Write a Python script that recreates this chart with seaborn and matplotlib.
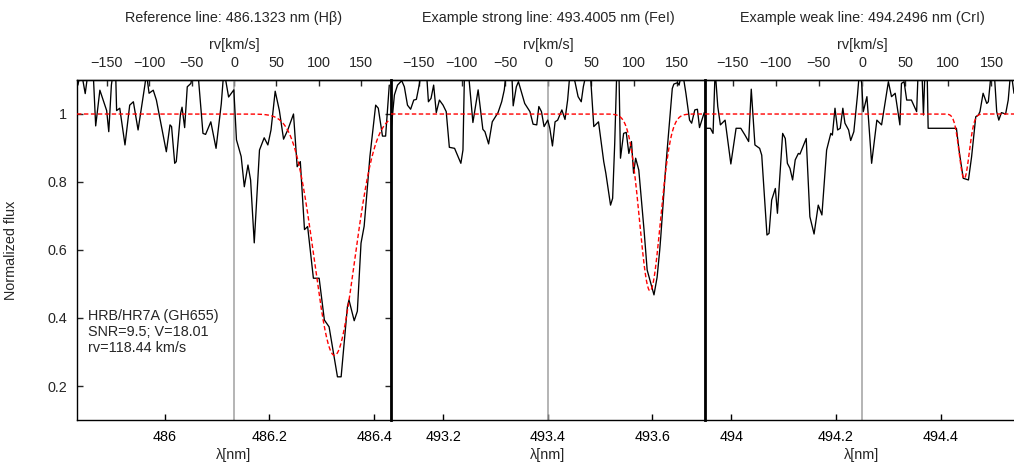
import numpy as np
import pandas as pd
import matplotlib
matplotlib.use("Agg")
import matplotlib.pyplot as plt
from matplotlib.ticker import FuncFormatter, MultipleLocator, FixedLocator
import seaborn as sns

# ---------------------------------------------------------------- constants
C_KMS = 299792.458
RV_KMS = 118.44
HALF_WINDOW = 0.3  # nm on each side of the rest wavelength

line_titles = [
    "Reference line: 486.1323 nm (Hβ)",
    "Example strong line: 493.4005 nm (FeI)",
    "Example weak line: 494.2496 nm (CrI)",
]
line_centers = [486.1323, 493.4005, 494.2496]
fit_depths = [0.71, 0.52, 0.19]
fit_sigmas = [0.0385, 0.0199, 0.0095]
rv_ticks = [-150, -100, -50, 0, 50, 100, 150]

star_info = "HRB/HR7A (GH655)\nSNR=9.5; V=18.01\nrv=118.44 km/s"

# ---------------------------------------------------------------- spectra
hb_wave = [485.834, 485.840, 485.848, 485.854, 485.863, 485.868, 485.876, 485.889,
           485.893, 485.898, 485.902, 485.906, 485.908, 485.914, 485.924, 485.933,
           485.940, 485.949, 485.962, 485.965, 485.970, 485.978, 485.984, 486.003,
           486.010, 486.013, 486.019, 486.022, 486.030, 486.033, 486.038, 486.043,
           486.050, 486.054, 486.063, 486.073, 486.078, 486.088, 486.098, 486.108,
           486.113, 486.122, 486.132, 486.137, 486.146, 486.152, 486.159, 486.164,
           486.171, 486.181, 486.190, 486.197, 486.203, 486.211, 486.219, 486.227,
           486.235, 486.246, 486.253, 486.259, 486.267, 486.273, 486.284, 486.295,
           486.305, 486.314, 486.330, 486.337, 486.349, 486.352, 486.362, 486.368,
           486.375, 486.381, 486.392, 486.403, 486.408, 486.416, 486.422, 486.429]
hb_flux = [1.085, 1.130, 1.060, 1.130, 1.130, 0.965, 1.070, 1.010,
           0.948, 1.085, 1.130, 1.130, 1.010, 1.017, 0.909, 1.026,
           1.036, 0.953, 1.085, 1.120, 1.061, 1.070, 1.041, 0.889,
           0.968, 0.963, 0.855, 0.860, 1.000, 1.020, 0.960, 1.080,
           1.090, 1.130, 1.130, 0.943, 0.940, 0.977, 0.899, 1.030,
           1.130, 1.050, 1.071, 0.924, 0.875, 0.786, 0.850, 0.806,
           0.621, 0.894, 0.930, 0.909, 0.953, 1.067, 1.010, 0.926,
           0.953, 1.000, 0.845, 0.860, 0.660, 0.669, 0.517, 0.517,
           0.394, 0.374, 0.227, 0.227, 0.433, 0.453, 0.392, 0.420,
           0.620, 0.670, 0.875, 1.026, 1.017, 0.935, 0.935, 1.085]

fe_wave = [493.101, 493.107, 493.113, 493.121, 493.126, 493.132, 493.138, 493.144,
           493.149, 493.155, 493.158, 493.168, 493.172, 493.177, 493.182, 493.187,
           493.193, 493.200, 493.206, 493.212, 493.222, 493.234, 493.238, 493.241,
           493.248, 493.257, 493.267, 493.276, 493.280, 493.287, 493.294, 493.305,
           493.312, 493.317, 493.321, 493.331, 493.334, 493.340, 493.344, 493.356,
           493.366, 493.372, 493.379, 493.383, 493.388, 493.393, 493.400, 493.404,
           493.409, 493.414, 493.419, 493.427, 493.433, 493.438, 493.443, 493.452,
           493.458, 493.464, 493.468, 493.475, 493.481, 493.488, 493.497, 493.507,
           493.511, 493.520, 493.524, 493.528, 493.532, 493.536, 493.539, 493.545,
           493.550, 493.555, 493.560, 493.564, 493.568, 493.574, 493.584, 493.590,
           493.603, 493.609, 493.614, 493.616, 493.625, 493.638, 493.641, 493.648,
           493.651, 493.657, 493.664, 493.671, 493.675, 493.681, 493.686, 493.690,
           493.699]
fe_flux = [0.958, 1.056, 1.085, 1.098, 1.080, 1.026, 1.014, 1.041,
           1.043, 1.090, 1.130, 1.130, 1.036, 1.046, 1.085, 1.004,
           1.041, 1.026, 1.007, 0.902, 0.899, 0.855, 0.894, 1.130,
           1.130, 0.975, 1.071, 0.955, 0.948, 0.912, 0.977, 1.004,
           1.036, 1.071, 1.130, 1.130, 1.024, 1.080, 1.095, 1.031,
           1.007, 0.970, 0.968, 1.022, 1.007, 0.963, 0.982, 0.958,
           0.906, 0.977, 0.982, 1.012, 0.984, 1.041, 1.130, 1.095,
           1.051, 1.036, 1.080, 1.130, 1.130, 0.963, 0.977, 0.860,
           0.826, 0.732, 0.752, 0.914, 1.130, 1.130, 0.870, 0.943,
           0.946, 0.884, 0.919, 0.826, 0.870, 0.835, 0.659, 0.541,
           0.468, 0.520, 0.600, 0.639, 0.835, 1.075, 1.088, 1.092,
           1.085, 1.130, 1.061, 0.982, 0.973, 1.012, 1.014, 0.960,
           1.004]

cr_wave = [493.950, 493.960, 493.965, 493.969, 493.974, 493.979, 493.988, 493.999,
           494.009, 494.018, 494.026, 494.033, 494.038, 494.045, 494.054, 494.058,
           494.068, 494.072, 494.077, 494.084, 494.088, 494.098, 494.103, 494.107,
           494.112, 494.117, 494.122, 494.128, 494.131, 494.143, 494.150, 494.158,
           494.166, 494.173, 494.182, 494.190, 494.193, 494.198, 494.203, 494.208,
           494.213, 494.217, 494.224, 494.228, 494.234, 494.241, 494.245, 494.249,
           494.252, 494.259, 494.268, 494.278, 494.287, 494.294, 494.300, 494.306,
           494.313, 494.322, 494.325, 494.330, 494.335, 494.344, 494.354, 494.357,
           494.364, 494.367, 494.370, 494.374, 494.376, 494.430, 494.435, 494.443,
           494.453, 494.459, 494.467, 494.472, 494.475, 494.481, 494.488, 494.491,
           494.497, 494.502, 494.507, 494.511, 494.516, 494.524, 494.529, 494.534,
           494.540]
cr_flux = [0.958, 0.958, 0.943, 1.130, 1.022, 0.968, 0.982, 0.853,
           0.958, 0.958, 0.938, 0.919, 1.073, 0.909, 0.899, 0.879,
           0.644, 0.649, 0.747, 0.781, 0.708, 0.943, 0.928, 0.855,
           0.840, 0.806, 0.865, 0.884, 0.882, 0.928, 0.698, 0.647,
           0.732, 0.703, 0.894, 0.943, 0.938, 1.017, 0.953, 0.958,
           1.017, 0.973, 0.953, 0.922, 0.948, 1.056, 1.130, 1.090,
           1.007, 1.051, 0.855, 0.982, 0.968, 1.036, 1.095, 1.051,
           1.061, 0.968, 1.090, 1.095, 1.041, 1.041, 1.007, 1.130,
           1.130, 0.997, 1.130, 1.130, 0.958, 0.958, 0.894, 0.811,
           0.806, 0.874, 0.992, 0.997, 1.007, 1.061, 1.031, 1.036,
           1.130, 1.130, 1.007, 0.982, 1.004, 1.000, 1.041, 1.130,
           1.061]

spectra = [(hb_wave, hb_flux), (fe_wave, fe_flux), (cr_wave, cr_flux)]

# ---------------------------------------------------------------- style
FS = 10.4
sns.set_theme(style="ticks")
plt.rcParams["font.family"] = ["Liberation Sans", "DejaVu Sans"]
plt.rcParams["font.size"] = FS
plt.rcParams["axes.linewidth"] = 1.0

fig = plt.figure(figsize=(10.14, 4.70), dpi=100)
W, H = 1014.0, 470.0
left_px, top_px, bottom_px, panel_px = 77.0, 80.0, 420.0, 314.0

for i, (title, lam0, depth, sigma, (wave, flux)) in enumerate(
        zip(line_titles, line_centers, fit_depths, fit_sigmas, spectra)):
    x0 = (left_px + i * panel_px) / W
    ax = fig.add_axes([x0, 1 - bottom_px / H, panel_px / W, (bottom_px - top_px) / H])

    lo, hi = lam0 - HALF_WINDOW, lam0 + HALF_WINDOW
    obs = pd.DataFrame({"wavelength": wave, "flux": flux})

    # rest wavelength marker
    ax.axvline(lam0, color="#a0a0a0", lw=1.1, zorder=1)

    # observed spectrum
    sns.lineplot(data=obs, x="wavelength", y="flux", ax=ax, color="black",
                 lw=0.95, estimator=None, sort=False, zorder=3)

    # gaussian fit shifted by the measured radial velocity
    center = lam0 * (1 + RV_KMS / C_KMS)
    grid = np.linspace(lo, hi, 600)
    model = pd.DataFrame({
        "wavelength": grid,
        "flux": 1 - depth * np.exp(-0.5 * ((grid - center) / sigma) ** 2),
    })
    sns.lineplot(data=model, x="wavelength", y="flux", ax=ax, color="red",
                 lw=1.0, estimator=None, sort=False, zorder=4,
                 linestyle=(0, (3.2, 1.8)))

    ax.set_xlim(lo, hi)
    ax.set_ylim(0.1, 1.1)
    ax.xaxis.set_major_locator(MultipleLocator(0.2))
    ax.xaxis.set_major_formatter(FuncFormatter(lambda v, p: f"{v:g}"))
    ax.yaxis.set_major_locator(MultipleLocator(0.2))
    ax.yaxis.set_major_formatter(FuncFormatter(lambda v, p: f"{v:g}"))
    ax.tick_params(axis="x", direction="in", length=4, width=1, pad=7,
                   top=False, labelsize=FS, color="black", labelcolor="black")
    ax.set_xlabel("λ[nm]", fontsize=FS, labelpad=3)
    if i == 0:
        ax.tick_params(axis="y", direction="in", length=4, width=1, pad=7,
                       left=True, right=True, labelsize=FS)
        ax.set_ylabel("Normalized flux", fontsize=FS)
        ax.yaxis.set_label_coords(-(left_px - 18) / panel_px, 0.5)
        ax.text(0.035, 0.327, star_info, transform=ax.transAxes, va="top",
                ha="left", fontsize=FS, linespacing=1.18)
    else:
        ax.tick_params(axis="y", left=False, right=False, labelleft=False)
        ax.set_ylabel("")
        ax.spines["left"].set_linewidth(2.0)
    for s in ax.spines.values():
        s.set_color("black")

    # radial velocity scale on top
    def to_rv(lam, lam0=lam0):
        return (np.asarray(lam) - lam0) / lam0 * C_KMS

    def to_lam(rv, lam0=lam0):
        return lam0 * (1 + np.asarray(rv) / C_KMS)

    sec = ax.secondary_xaxis("top", functions=(to_rv, to_lam))
    sec.xaxis.set_major_locator(FixedLocator(rv_ticks))
    sec.xaxis.set_minor_locator(FixedLocator([]))
    sec.tick_params(direction="in", length=4, width=1, pad=7, labelsize=FS)
    sec.set_xlabel("rv[km/s]", fontsize=FS, labelpad=5)

    ax.set_title(title, fontsize=FS, y=(bottom_px - 22) / (bottom_px - top_px),
                 va="baseline", pad=0)

fig.savefig("out.png", dpi=100)
